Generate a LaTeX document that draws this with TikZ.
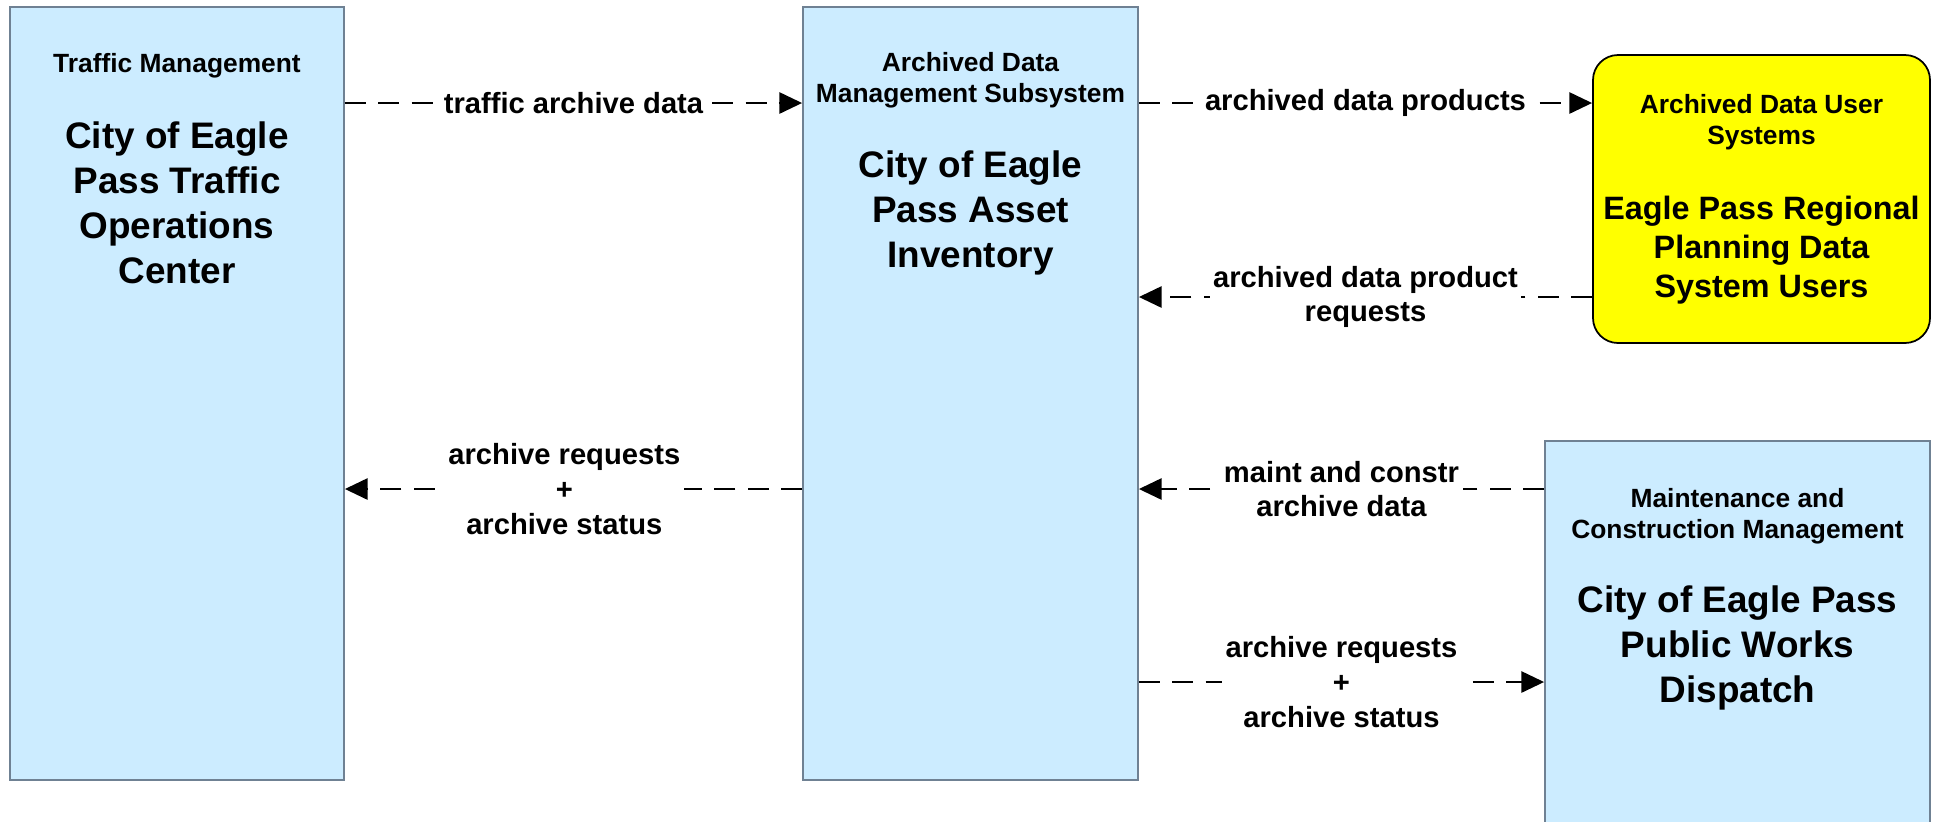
\documentclass[tikz,border=0pt]{standalone}
\usepackage{fontspec}
\setmainfont{Liberation Sans}
\usetikzlibrary{arrows.meta,fit}
\definecolor{boxblue}{HTML}{CCECFF}
\definecolor{boxedge}{HTML}{6F8193}
\definecolor{useryellow}{HTML}{FFFF00}

\begin{document}
\begin{tikzpicture}[x=0.1mm,y=-0.1mm,
  sysbox/.style={draw=boxedge,fill=boxblue,line width=0.5pt,inner sep=0pt},
  userbox/.style={draw=black,fill=useryellow,line width=0.5pt,inner sep=0pt,rounded corners=2.5mm},
  cls/.style={font=\bfseries\fontsize{7.5}{8.9}\selectfont,align=center},
  inst/.style={font=\bfseries\fontsize{10.5}{12.8}\selectfont,align=center},
  flow/.style={-{Triangle[length=6.5pt,width=6pt]},line width=0.8pt,dash pattern=on 6pt off 3.5pt},
  flowlbl/.style={font=\bfseries\fontsize{8.3}{9.9}\selectfont,align=center,fill=white,inner sep=1pt}]

\useasboundingbox (0,0) rectangle (1937,821);

%the four systems
\node[sysbox,fit={(10,7) (344,780)}] (tmc) {};
\node[sysbox,fit={(803,7) (1138,780)}] (adms) {};
\node[userbox,fit={(1593,55) (1930,343)}] (adus) {};
\node[sysbox,fit={(1545,441) (1930,835)}] (mcm) {};

%class and name inside each box
\node[cls] (tmccls) at (177,66) {Traffic Management};
\node[inst] (tmcname) at (177,203) {City of Eagle\\Pass Traffic\\Operations\\Center};
\node[cls] (admscls) at (970.5,80) {Archived Data\\Management Subsystem};
\node[inst] (admsname) at (970.5,213) {City of Eagle\\Pass Asset\\Inventory};
\node[cls] (aduscls) at (1761.5,122) {Archived Data User\\Systems};
\node[inst,font=\bfseries\fontsize{9.2}{11.1}\selectfont] (adusname) at (1761.5,250) {Eagle Pass Regional\\Planning Data\\System Users};
\node[cls] (mcmcls) at (1737.5,516) {Maintenance and\\Construction Management};
\node[inst] (mcmname) at (1737.5,648) {City of Eagle Pass\\Public Works\\Dispatch};

%levels of the flows
\coordinate (yA) at (0,103);
\coordinate (yB) at (0,297);
\coordinate (yC) at (0,489);
\coordinate (yD) at (0,682);

%flows
\draw[flow] (tmc.east |- yA) -- node[flowlbl] (lblA) {traffic archive data} (adms.west |- yA);
\draw[flow] (adms.east |- yA) -- node[flowlbl] (lblB) {archived data products} (adus.west |- yA);
\draw[flow] (adus.west |- yB) -- node[flowlbl] (lblC) {archived data product\\requests} (adms.east |- yB);
\draw[flow] (adms.west |- yC) -- node[flowlbl,pos=0.52] (lblD) {archive requests\\+\\archive status} (tmc.east |- yC);
\draw[flow] (mcm.west |- yC) -- node[flowlbl] (lblE) {maint and constr\\archive data} (adms.east |- yC);
\draw[flow] (adms.east |- yD) -- node[flowlbl] (lblF) {archive requests\\+\\archive status} (mcm.west |- yD);

\end{tikzpicture}
\end{document}
